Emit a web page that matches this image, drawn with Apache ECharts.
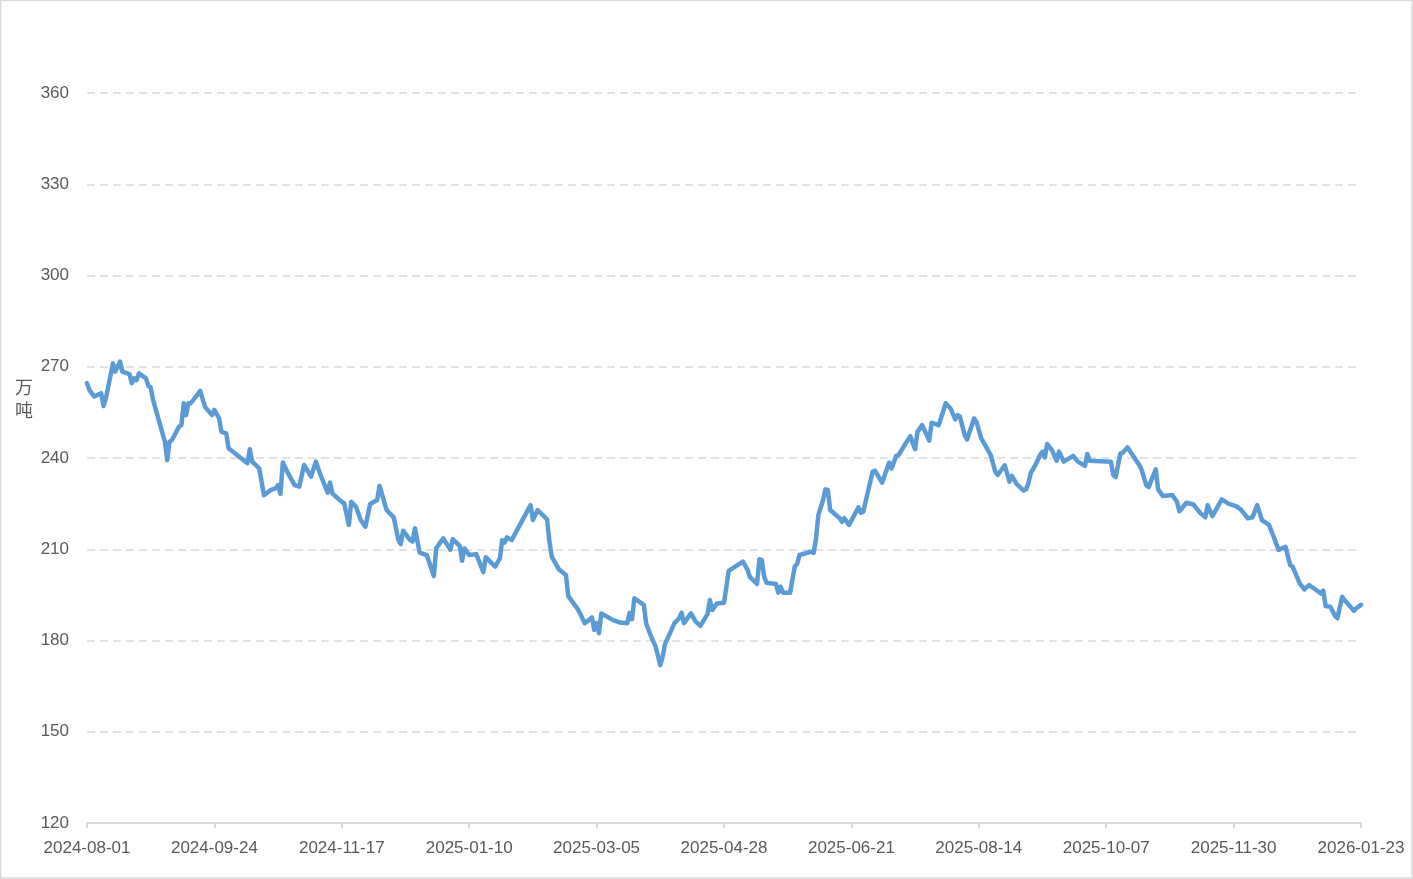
<!DOCTYPE html>
<html>
<head>
<meta charset="utf-8">
<title>万吨</title>
<script src="https://cdn.jsdelivr.net/npm/echarts@6/dist/echarts.min.js"></script>
<style>
  html, body { margin: 0; padding: 0; background: #fff; }
  #chart { width: 1413px; height: 879px; }
</style>
</head>
<body>
<div id="chart"></div>
<script>
// 起始日期，x 轴用距起始日的天数
const startDate = '2024-08-01'
const dayOffsets = [
  0, 1, 3, 6, 7, 8, 11, 12, 14, 15, 18, 19, 20, 21, 22, 25, 26, 27, 28, 32,
  33, 34, 35, 36, 39, 40, 41, 42, 43, 44, 48, 50, 53, 54, 56, 57, 59, 60, 68, 69,
  70, 73, 75, 78, 80, 81, 82, 83, 85, 88, 90, 92, 95, 97, 99, 102, 103, 104, 107, 109,
  111, 112, 114, 116, 118, 120, 123, 124, 127, 130, 132, 133, 134, 137, 138, 139, 141, 144, 147, 148,
  151, 154, 155, 158, 159, 160, 162, 165, 168, 169, 173, 175, 176, 177, 178, 180, 188, 189, 191, 195,
  196, 197, 200, 203, 204, 208, 209, 211, 214, 215, 216, 217, 218, 223, 226, 229, 230, 231, 232, 236,
  237, 239, 241, 243, 244, 245, 249, 251, 252, 253, 256, 258, 260, 263, 264, 265, 267, 270, 272, 278,
  280, 281, 284, 285, 286, 287, 288, 292, 293, 294, 295, 298, 300, 301, 302, 307, 308, 309, 310, 312,
  313, 314, 315, 319, 320, 321, 323, 327, 328, 329, 333, 334, 337, 340, 341, 343, 344, 347, 349, 350,
  351, 352, 354, 357, 358, 361, 364, 366, 368, 369, 370, 372, 373, 376, 377, 379, 383, 385, 386, 389,
  391, 392, 394, 397, 398, 399, 400, 402, 404, 405, 406, 407, 409, 411, 412, 414, 418, 420, 423, 424,
  425, 434, 435, 436, 438, 439, 441, 446, 447, 449, 450, 453, 454, 456, 460, 462, 463, 466, 469, 472,
  474, 475, 477, 481, 484, 487, 489, 492, 494, 496, 498, 501, 503, 505, 508, 510, 511, 514, 516, 518,
  521, 523, 524, 525, 527, 529, 530, 532, 533, 537, 538, 540
]
const stockValues = [
  264.6, 262.4, 260.2, 261.3, 257.1, 259.6, 271.1, 268.4, 271.7, 268.4, 267.6, 264.6, 266.2, 265.6, 267.8, 266.2, 263.7, 263.2, 259.1, 248.1,
  245.4, 239.3, 245.4, 245.9, 250.3, 250.8, 258.0, 254.1, 258.0, 258.0, 262.1, 256.8, 254.1, 255.8, 253.0, 248.6, 248.1, 243.2, 238.3, 242.9,
  238.8, 236.6, 227.8, 229.5, 230.0, 231.1, 228.2, 238.5, 235.3, 231.1, 230.6, 237.7, 233.9, 238.8, 234.4, 228.6, 231.9, 228.4, 226.2, 225.1,
  218.0, 225.6, 224.0, 219.6, 217.4, 224.9, 226.2, 230.8, 222.9, 220.5, 213.0, 211.7, 216.1, 213.0, 212.5, 216.9, 208.9, 208.1, 201.2, 210.3,
  213.6, 209.8, 213.3, 211.1, 206.2, 210.3, 208.1, 208.4, 202.5, 207.4, 204.3, 207.0, 213.0, 212.2, 213.9, 213.0, 224.5, 219.6, 222.9, 219.8,
  212.5, 207.6, 203.4, 201.5, 194.6, 190.3, 188.9, 185.7, 187.6, 183.5, 185.7, 182.4, 188.9, 186.7, 185.9, 185.7, 189.1, 187.0, 193.9, 191.7,
  185.7, 181.5, 178.0, 171.9, 174.7, 178.8, 185.7, 187.3, 189.1, 185.7, 188.9, 186.2, 184.8, 188.7, 193.3, 190.0, 192.2, 192.4, 202.9, 205.9,
  203.2, 200.8, 198.6, 206.7, 206.5, 201.0, 199.0, 198.6, 195.7, 197.7, 195.7, 195.7, 204.3, 205.2, 208.1, 209.2, 208.8, 213.6, 221.3, 226.2,
  229.7, 229.5, 222.9, 220.2, 219.0, 220.2, 218.0, 223.8, 222.0, 222.3, 235.5, 235.8, 231.9, 238.5, 236.6, 240.7, 241.0, 244.8, 247.2, 244.8,
  242.9, 248.6, 250.8, 245.7, 251.6, 250.8, 258.0, 256.3, 252.7, 254.1, 253.6, 247.6, 246.1, 253.0, 251.9, 246.5, 241.0, 235.5, 234.4, 237.6,
  232.2, 234.1, 231.5, 229.3, 229.7, 231.7, 235.0, 237.7, 241.0, 242.1, 240.2, 244.6, 242.6, 239.1, 242.1, 238.8, 240.7, 238.8, 237.4, 241.3,
  239.1, 238.8, 234.4, 233.7, 241.5, 241.7, 243.5, 237.7, 236.1, 231.1, 230.4, 236.3, 229.7, 227.5, 227.8, 225.6, 222.5, 225.3, 224.7, 221.8,
  220.5, 224.5, 220.9, 226.4, 224.9, 224.2, 223.1, 220.2, 220.5, 224.5, 219.6, 218.0, 214.1, 209.8, 210.8, 204.8, 204.3, 198.8, 196.8, 198.2,
  196.6, 195.5, 196.4, 191.3, 191.1, 188.1, 187.3, 194.4, 193.3, 189.8, 190.6, 191.7
]
// x 轴刻度：每 54 天一个
const xTickStep = 54
const xMaxDay = 540
const yTicks = [120, 150, 180, 210, 240, 270, 300, 330, 360]

function dayToDate (d) {
  let t = Date.parse(startDate + 'T00:00:00Z') + d * 24 * 3600 * 1000
  return new Date(t).toISOString().slice(0, 10)
}

let seriesData = dayOffsets.map((d, i) => [d, stockValues[i]])

let myChart = echarts.init(document.getElementById('chart'))
myChart.setOption({
  animation: false,
  textStyle: { fontFamily: 'Microsoft YaHei, Arial, Liberation Sans, sans-serif' },
  grid: {
    left: 87,
    right: 52,
    top: 93,
    bottom: 56
  },
  graphic: [
    {
      type: 'rect',
      shape: { x: 0.5, y: 0.5, width: 1411.5, height: 877.5 },
      style: { fill: 'none', stroke: '#d9d9d9', lineWidth: 1.5 },
      silent: true
    },
    {
      type: 'text',
      left: 15,
      top: 376,
      style: {
        text: '万\n吨',
        fill: '#595959',
        font: '18px "Noto Sans CJK SC", sans-serif',
        lineHeight: 23
      }
    }
  ],
  xAxis: {
    type: 'value',
    min: 0,
    max: xMaxDay,
    interval: xTickStep,
    splitLine: { show: false },
    axisLine: { lineStyle: { color: '#d9d9d9', width: 2 } },
    axisTick: { show: true, length: 5, lineStyle: { color: '#d9d9d9', width: 2 } },
    axisLabel: {
      color: '#595959',
      fontSize: 17,
      margin: 17,
      showMinLabel: true,
      showMaxLabel: true,
      formatter: (v) => dayToDate(v)
    }
  },
  yAxis: {
    type: 'value',
    min: yTicks[0],
    max: yTicks[yTicks.length - 1],
    interval: 30,
    axisLine: { show: false },
    axisTick: { show: false },
    axisLabel: { color: '#595959', fontSize: 17, margin: 18 },
    splitLine: {
      lineStyle: { color: '#d9d9d9', width: 1.5, type: [8, 5] }
    }
  },
  series: [
    {
      name: '库存',
      type: 'line',
      data: seriesData,
      showSymbol: false,
      symbol: 'none',
      lineStyle: { color: '#5b9bd5', width: 4.5, join: 'round', cap: 'round' }
    }
  ]
})
</script>
</body>
</html>
